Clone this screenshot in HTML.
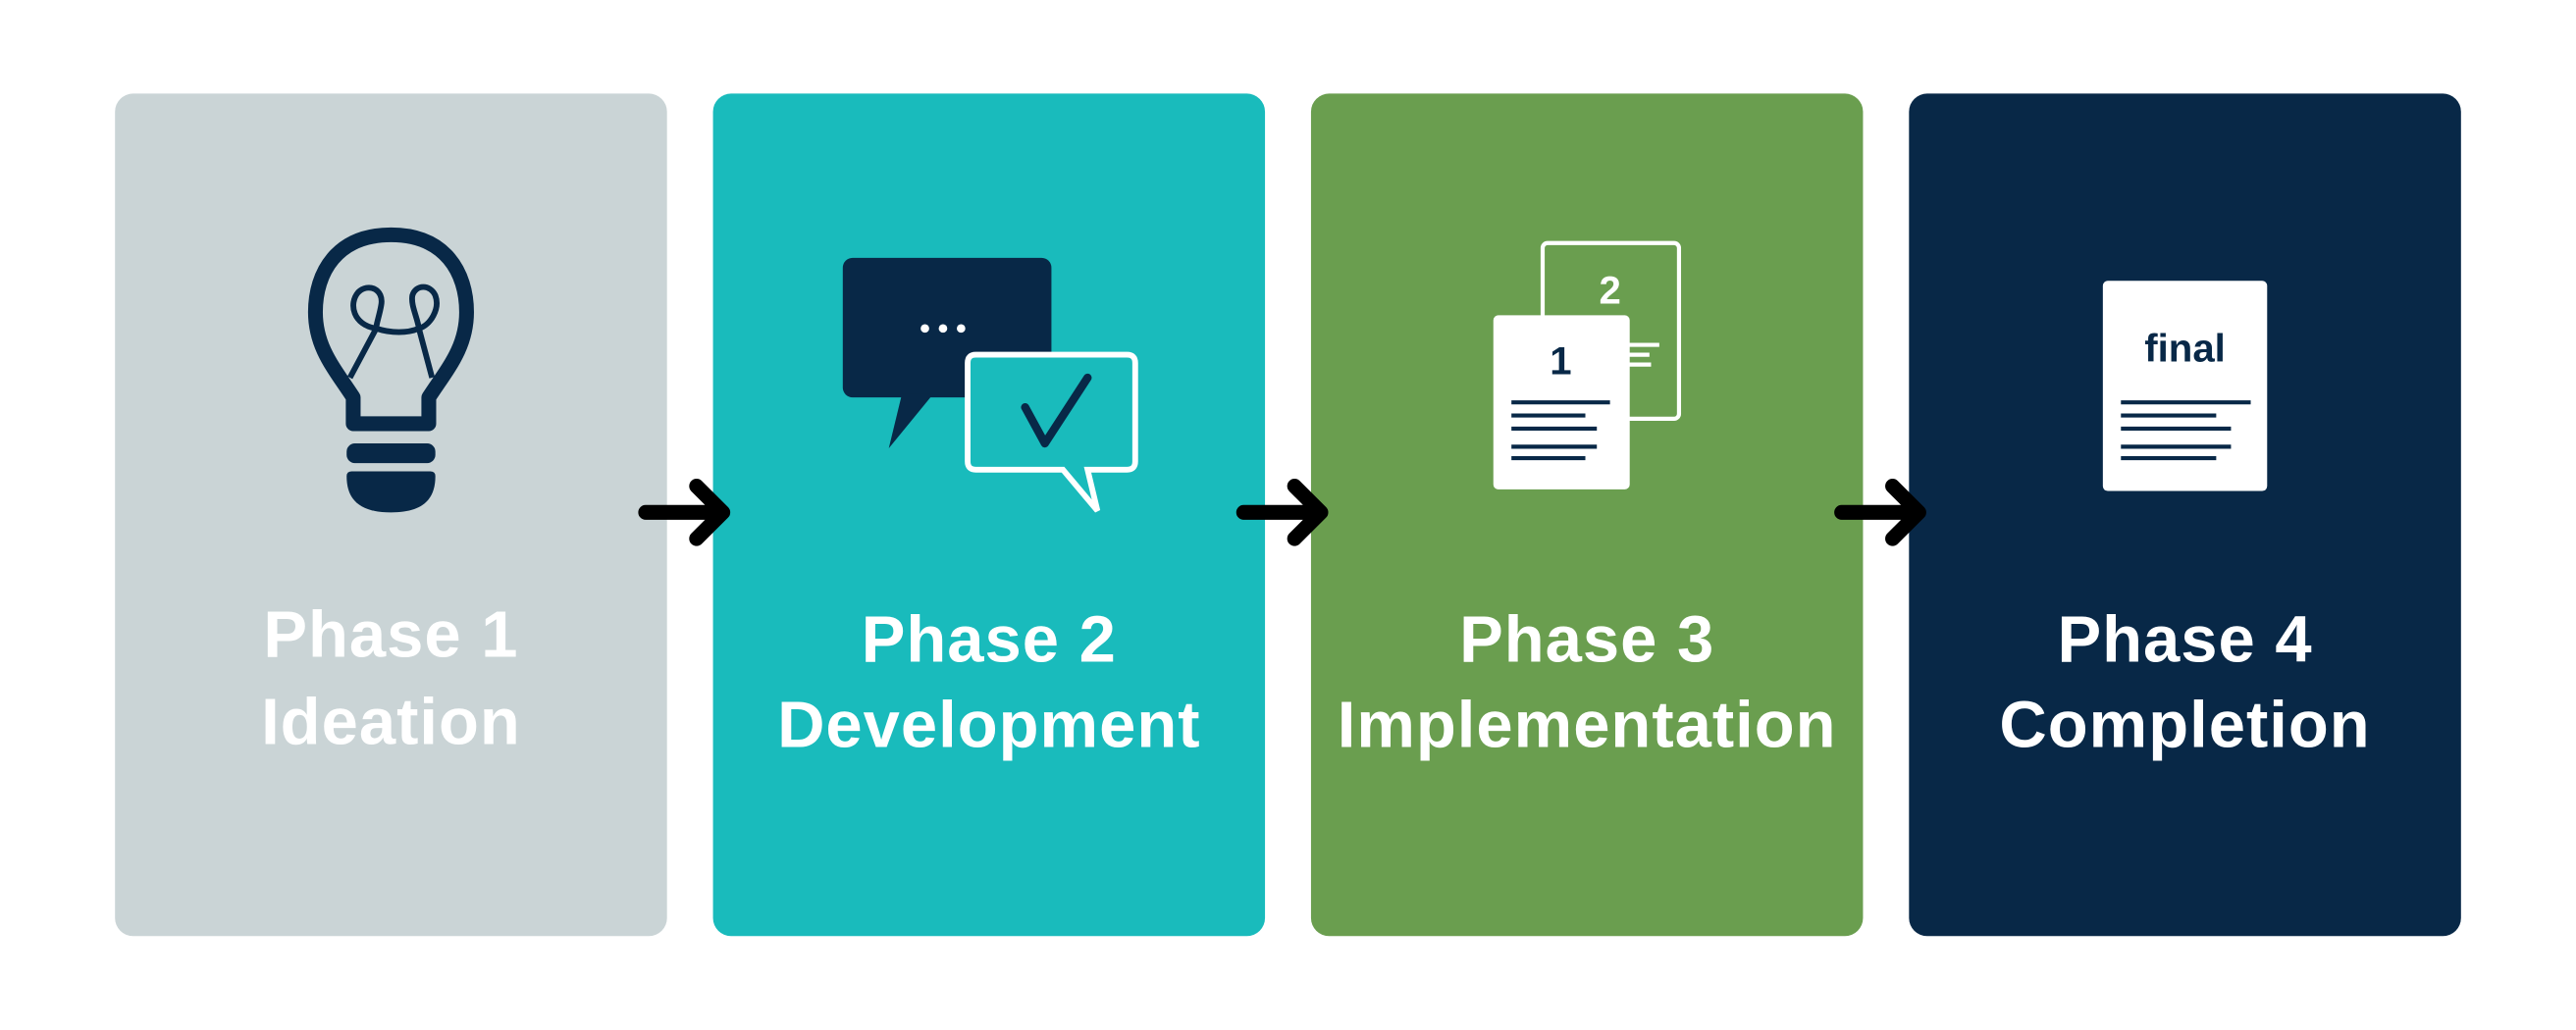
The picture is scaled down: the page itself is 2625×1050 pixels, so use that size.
<!DOCTYPE html>
<html><head><meta charset="utf-8"><style>
html,body{margin:0;padding:0;background:#fff;}
svg{display:block;}
text{font-family:"Liberation Sans",sans-serif;font-weight:bold;}
</style></head><body>
<svg width="2625" height="1050" viewBox="0 0 1568 627.2" preserveAspectRatio="none" xmlns="http://www.w3.org/2000/svg">
<rect x="0" y="0" width="1568" height="627.2" fill="#fff"/>
<rect x="70" y="57" width="336" height="513" rx="11" fill="#cad4d6"/>
<rect x="434" y="57" width="336" height="513" rx="11" fill="#19bbbc"/>
<rect x="798" y="57" width="336" height="513" rx="11" fill="#6a9e4f"/>
<rect x="1162" y="57" width="336" height="513" rx="11" fill="#082847"/>

<g stroke="#000" stroke-width="9" stroke-linecap="round" stroke-linejoin="round" fill="none">
<path d="M393 312 H438 M424 296 L440 312 L424 328"/>
<path d="M757 312 H802 M788 296 L804 312 L788 328"/>
<path d="M1121 312 H1166 M1152 296 L1168 312 L1152 328"/>
</g>

<g fill="none" stroke="#082847" stroke-linejoin="round">
<path d="M238 143 C205 143 192 166 192 190 C192 212 204 225 215 242 V258 H261 V242 C272 225 284 212 284 190 C284 166 271 143 238 143 Z" stroke-width="9"/>
<path d="M213 230 L229 200 M263 230 L255 200" stroke-width="3.5"/>
<path d="M229 200 C215 198 212 185 218 178 C224 172 234 176 232 186 C231 192 229 197 229 200 C238 203 248 203 255 200 C254 193 250 186 251 180 C253 173 262 173 265 180 C268 188 262 198 255 200" stroke-width="3.5"/>
</g>
<rect x="222" y="238" width="32" height="15" fill="#cad4d6"/>
<rect x="211" y="270" width="54" height="12" rx="5" fill="#082847"/>
<path d="M211 290 Q211 287 214 287 H262 Q265 287 265 290 C265 306 255 312 238 312 C221 312 211 306 211 290 Z" fill="#082847"/>

<rect x="513" y="157" width="127" height="85" rx="6" fill="#082847"/>
<path d="M549 240 L541 273 L568 240 Z" fill="#082847"/>
<circle cx="563" cy="200" r="2.6" fill="#fff"/><circle cx="574" cy="200" r="2.6" fill="#fff"/><circle cx="585" cy="200" r="2.6" fill="#fff"/>
<path d="M594 216 H686 Q691 216 691 221 V281 Q691 286 686 286 H662 L668 311 L647 286 H594 Q589 286 589 281 V221 Q589 216 594 216 Z" fill="#19bbbc" stroke="#fff" stroke-width="3.5"/>
<path d="M624 248 L636 270 L662 230" fill="none" stroke="#082847" stroke-width="5" stroke-linecap="round" stroke-linejoin="round"/>

<rect x="939" y="148" width="83" height="107" rx="3" fill="none" stroke="#fff" stroke-width="2.5"/>
<text x="980" y="185" font-size="24" fill="#fff" text-anchor="middle">2</text>
<g stroke="#fff" stroke-width="2.5"><path d="M990 210 H1010 M990 216 H1004 M990 222 H1005"/></g>
<rect x="909" y="192" width="83" height="106" rx="3" fill="#fff"/>
<text x="950" y="228" font-size="24" fill="#082847" text-anchor="middle">1</text>
<g stroke="#082847" stroke-width="2.5"><path d="M920 245 H980 M920 253 H965 M920 261 H972 M920 272 H972 M920 279 H965"/></g>

<rect x="1280" y="171" width="100" height="128" rx="3" fill="#fff"/>
<text x="1330" y="220" font-size="24" fill="#082847" text-anchor="middle">final</text>
<g stroke="#082847" stroke-width="2.5"><path d="M1291 245 H1370 M1291 253 H1349 M1291 261 H1358 M1291 272 H1358 M1291 279 H1349"/></g>

<g font-size="40" fill="#fff" text-anchor="middle" letter-spacing="0.6">
<text x="238" y="400">Phase 1</text><text x="238" y="453">Ideation</text>
<text x="602" y="403">Phase 2</text><text x="602" y="455">Development</text>
<text x="966" y="403">Phase 3</text><text x="966" y="455">Implementation</text>
<text x="1330" y="403">Phase 4</text><text x="1330" y="455">Completion</text>
</g>
</svg>
</body></html>
